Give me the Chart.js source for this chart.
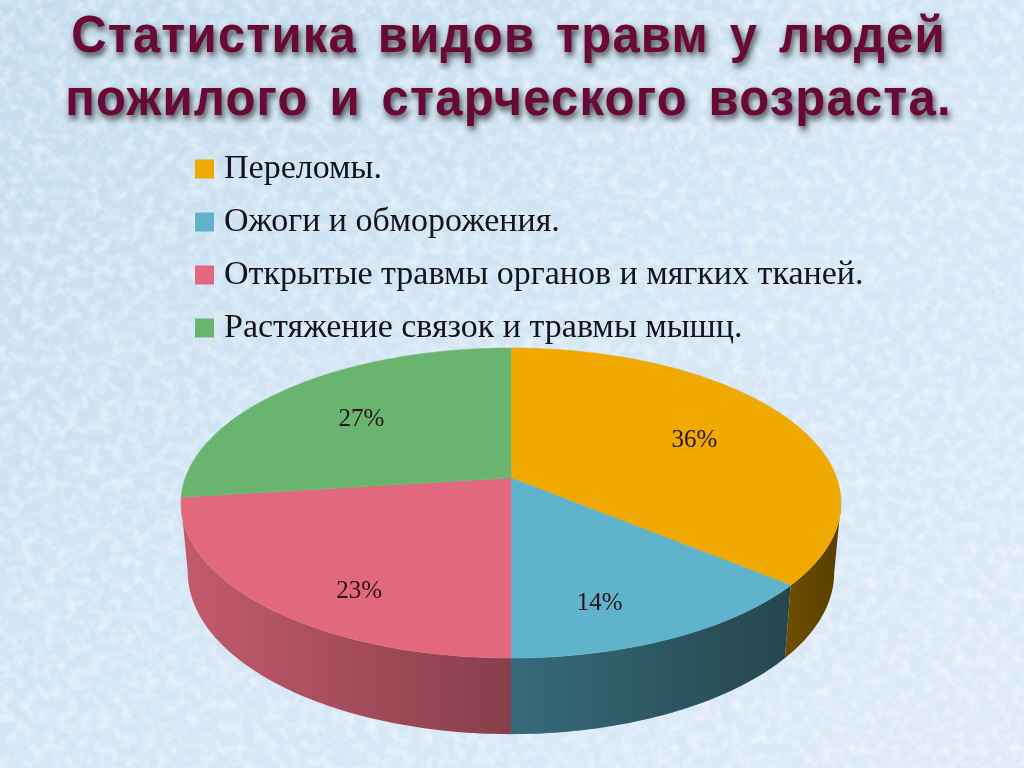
<!DOCTYPE html>
<html lang="ru">
<head>
<meta charset="utf-8">
<title>Статистика видов травм</title>
<script src="https://cdn.jsdelivr.net/npm/chart.js@4"></script>
<style>
html,body{margin:0;padding:0;width:1024px;height:768px;overflow:hidden;background:#d6e7f4;}
#bg{position:absolute;left:0;top:0;width:1024px;height:768px;}
#c{position:absolute;left:0;top:0;}
</style>
</head>
<body>
<svg id="bg" xmlns="http://www.w3.org/2000/svg" width="1024" height="768">
  <defs>
    <linearGradient id="g" x1="0" y1="0" x2="1" y2="1">
      <stop offset="0" stop-color="#c4ddee"/><stop offset="0.5" stop-color="#d4e6f5"/><stop offset="1" stop-color="#dfeaf8"/>
    </linearGradient>
    <filter id="n" x="0" y="0" width="100%" height="100%">
      <feTurbulence type="fractalNoise" baseFrequency="0.09" numOctaves="4" seed="7"/>
      <feColorMatrix type="matrix" values="0 0 0 0 1  0 0 0 0 1  0 0 0 0 1  1.8 0 0 0 -0.72"/>
    </filter>
  </defs>
  <rect width="1024" height="768" fill="url(#g)"/>
  <rect width="1024" height="768" filter="url(#n)" opacity="0.6"/>
</svg>
<canvas id="c" width="1024" height="768"></canvas>
<script>
const titleLines = ['Статистика видов травм у людей', 'пожилого и старческого возраста.'];
const categories = ['Переломы.', 'Ожоги и обморожения.', 'Открытые травмы органов и мягких тканей.', 'Растяжение связок и травмы мышц.'];
const shares = [36, 14, 23, 27];
const faceColors = ['#EFA900', '#5FB3CB', '#E2687E', '#69B56F'];
const sideFrom = ['#6F4E00', '#376B7B', '#C25A6C', '#3F7A45'];
const sideTo = ['#5A4000', '#26474F', '#883F4C', '#3F7A45'];
const labelNudgeX = [0, -11, 0, -1];
const labelNudgeY = [2, 27, 34, 2];

const topPlane = {cx: 511, cy: 478, a: 151, b: 325.7, k: -0.1613};
const lowPlane = {cx: 511, cy: 546, a: 157.8, b: 319, k: -0.1613};

function project(plane, angle, frac) {
  const u = Math.cos(angle) * frac, v = Math.sin(angle) * frac;
  const d = 1 + plane.k * v;
  return {x: plane.cx + plane.b * u / d, y: plane.cy + plane.a * v / d};
}
function sweep(a0, a1) {
  const out = [];
  const n = Math.max(8, Math.ceil((a1 - a0) * 60));
  for (let i = 0; i <= n; i++) out.push(a0 + (a1 - a0) * i / n);
  return out;
}
const tipAngle = Math.asin(-topPlane.k);

const pie3d = {
  id: 'pie3d',
  afterLayout(chart) {
    const lg = chart.legend;
    lg.left = 183; lg.right = 1000;
    lg.top = 133; lg.bottom = 500;
  },
  beforeDraw(chart) {
    const t = chart.titleBlock;
    if (!t._shadowed) {
      const orig = t.draw.bind(t);
      t.draw = function () {
        const c = chart.ctx;
        c.save();
        c.translate(-3.5, 0);
        c.scale(1, 1.06);
        c.shadowColor = 'rgba(40,40,40,0.85)';
        c.shadowBlur = 6;
        c.shadowOffsetX = 2;
        c.shadowOffsetY = 4;
        c.letterSpacing = '1.2px';
        c.wordSpacing = '6px';
        orig();
        c.restore();
      };
      t._shadowed = true;
    }
  },
  beforeDatasetDraw(chart, args) {
    const ctx = chart.ctx, arcs = args.meta.data;
    ctx.save();
    arcs.forEach((el, i) => {
      const p = el.getProps(['startAngle', 'endAngle'], true);
      const a0 = Math.max(p.startAngle, tipAngle);
      const a1 = Math.min(p.endAngle, Math.PI - tipAngle);
      if (a0 >= a1) return;
      const angles = sweep(a0, a1);
      const up = angles.map(a => project(topPlane, a, 1));
      const lo = angles.map(a => project(lowPlane, a, 1));
      const xs = lo.map(q => q.x);
      const g = ctx.createLinearGradient(Math.min(...xs), 0, Math.max(...xs), 0);
      g.addColorStop(0, sideFrom[i]);
      g.addColorStop(1, sideTo[i]);
      ctx.fillStyle = g;
      ctx.beginPath();
      up.forEach((q, k) => k ? ctx.lineTo(q.x, q.y) : ctx.moveTo(q.x, q.y));
      lo.slice().reverse().forEach(q => ctx.lineTo(q.x, q.y));
      ctx.closePath();
      ctx.fill();
    });
    arcs.forEach((el, i) => {
      const p = el.getProps(['startAngle', 'endAngle'], true);
      const c = project(topPlane, 0, 0);
      ctx.fillStyle = faceColors[i];
      ctx.strokeStyle = faceColors[i];
      ctx.lineWidth = 0.5;
      ctx.beginPath();
      ctx.moveTo(c.x, c.y);
      sweep(p.startAngle, p.endAngle).forEach(a => { const q = project(topPlane, a, 1); ctx.lineTo(q.x, q.y); });
      ctx.closePath();
      ctx.fill();
      ctx.stroke();
    });
    ctx.fillStyle = '#2a1418';
    ctx.font = '25px "Liberation Serif"';
    ctx.textAlign = 'center';
    ctx.textBaseline = 'middle';
    arcs.forEach((el, i) => {
      const p = el.getProps(['startAngle', 'endAngle'], true);
      const q = project(topPlane, (p.startAngle + p.endAngle) / 2, 0.65);
      ctx.fillText(shares[i] + '%', q.x + labelNudgeX[i], q.y + labelNudgeY[i]);
    });
    ctx.restore();
    return false;
  }
};

new Chart(document.getElementById('c'), {
  type: 'pie',
  data: {labels: categories, datasets: [{data: shares, backgroundColor: faceColors, borderWidth: 0}]},
  plugins: [pie3d],
  options: {
    responsive: false,
    devicePixelRatio: 1,
    animation: false,
    events: [],
    layout: {padding: 0},
    plugins: {
      tooltip: {enabled: false},
      title: {
        display: true,
        text: titleLines,
        color: '#680A35',
        align: 'center',
        padding: {top: 6, bottom: 0},
        font: {family: '"Liberation Sans"', size: 49, weight: 'bold', lineHeight: 1.213}
      },
      legend: {
        display: true,
        position: 'left',
        align: 'start',
        labels: {
          boxWidth: 5,
          boxHeight: 5,
          padding: 19,
          color: '#14141a',
          font: {family: '"Liberation Serif"', size: 34, lineHeight: 1.2},
          generateLabels(chart) {
            return Chart.overrides.pie.plugins.legend.labels.generateLabels(chart)
              .map(it => ({...it, lineWidth: 14, strokeStyle: it.fillStyle}));
          }
        }
      }
    }
  }
});
</script>
</body>
</html>
